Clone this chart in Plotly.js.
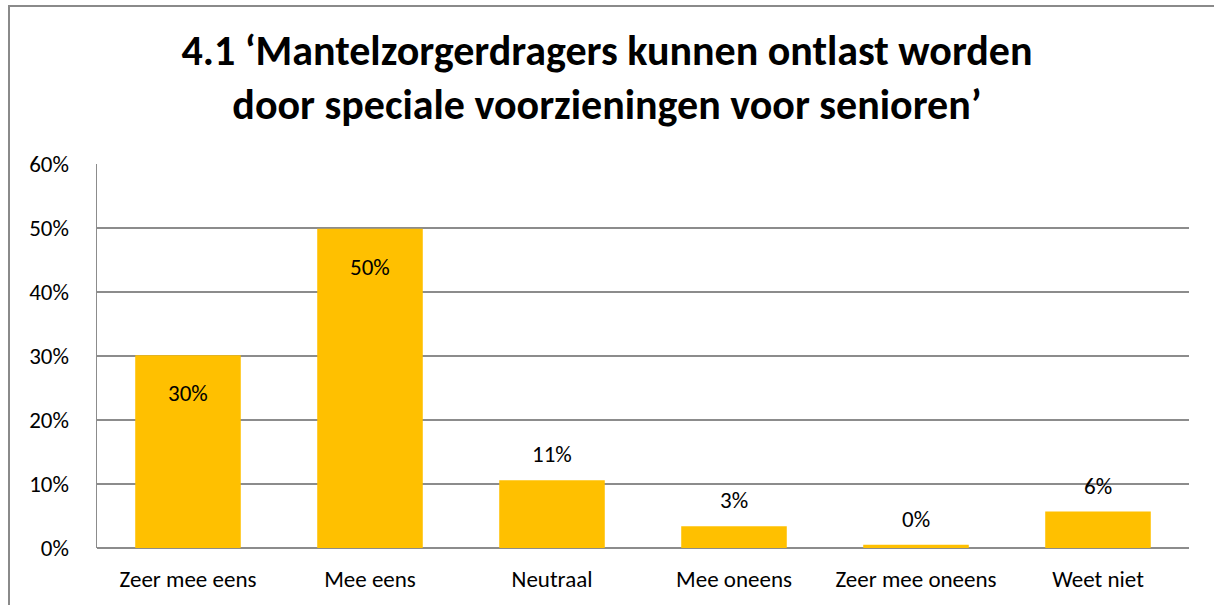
<!DOCTYPE html>
<html>
<head>
<meta charset="utf-8">
<script src="https://cdn.plot.ly/plotly-3.0.1.min.js"></script>
<style>
  html, body { margin: 0; padding: 0; background: #ffffff; }
  #wrap { position: relative; width: 1214px; height: 605px; overflow: hidden; }
  #chart { position: absolute; left: 0; top: 0; width: 1214px; height: 605px; }
  #frame { position: absolute; left: 8px; top: 5px; width: 1300px; height: 700px;
           border-top: 2px solid #8a8a8a; border-left: 2px solid #8a8a8a; pointer-events: none; }
</style>
</head>
<body>
<div id="wrap">
  <div id="chart"></div>
  <div id="frame"></div>
</div>
<script>
const categories = ['Zeer mee eens', 'Mee eens', 'Neutraal', 'Mee oneens', 'Zeer mee oneens', 'Weet niet'];
const values = [30.1, 49.9, 10.6, 3.4, 0.5, 5.7];   // percent
const labelText = ['30%', '50%', '11%', '3%', '0%', '6%'];
const labelInside = [true, true, false, false, false, false];
const yTicks = [0, 10, 20, 30, 40, 50, 60];
const yTickText = ['0%', '10%', '20%', '30%', '40%', '50%', '60%'];

const FONT = 'Carlito, Calibri, Lato, sans-serif';

const trace = {
  type: 'bar',
  x: categories,
  y: values,
  marker: { color: '#FFC000', line: { width: 0 } },
  hoverinfo: 'skip'
};

const annotations = categories.map((c, i) => ({
  x: c, y: values[i], xref: 'x', yref: 'y',
  text: labelText[i], showarrow: false,
  yanchor: 'middle',
  yshift: labelInside[i] ? -38 : 26,
  font: { family: FONT, size: 23, color: '#000000' }
}));

const layout = {
  width: 1214, height: 605,
  paper_bgcolor: 'rgba(0,0,0,0)', plot_bgcolor: '#ffffff',
  margin: { l: 97, r: 25, t: 164, b: 57 },
  title: {
    text: '<b>4.1 \u2018Mantelzorgerdragers kunnen ontlast worden<br>door speciale voorzieningen voor senioren\u2019</b>',
    font: { family: FONT, size: 42, color: '#000000' },
    x: 0.5, xanchor: 'center', yref: 'container', y: 0.893, yanchor: 'top'
  },
  bargap: 0.42,
  showlegend: false,
  xaxis: {
    type: 'category',
    showgrid: false, zeroline: false,
    showline: false, ticks: '',
    tickfont: { family: FONT, size: 23, color: '#000000' },
    ticklabelstandoff: 15,
    fixedrange: true
  },
  yaxis: {
    range: [0, 60],
    tickvals: yTicks, ticktext: yTickText,
    showgrid: true, gridcolor: '#8c8c8c', gridwidth: 1.5,
    zeroline: true, zerolinecolor: '#8c8c8c', zerolinewidth: 1.5,
    showline: true, linecolor: '#8c8c8c', linewidth: 1.5,
    ticks: '',
    tickfont: { family: FONT, size: 23, color: '#000000' },
    ticklabelstandoff: 22,
    fixedrange: true
  },
  annotations: annotations
};

Plotly.newPlot('chart', [trace], layout, { displayModeBar: false, staticPlot: true });
</script>
</body>
</html>
